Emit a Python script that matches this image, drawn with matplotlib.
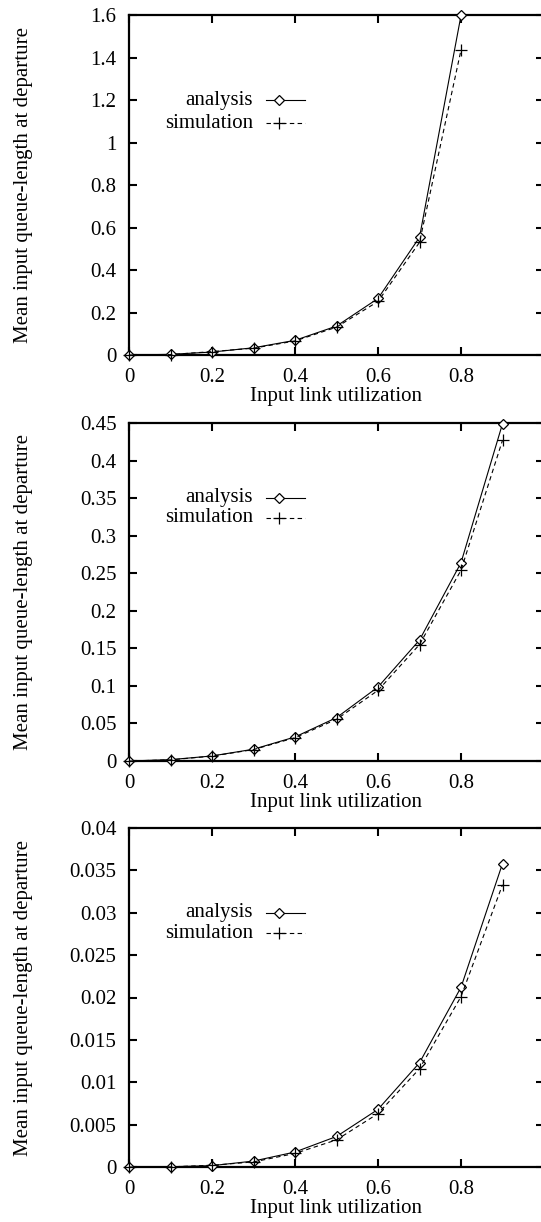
import matplotlib
matplotlib.use("Agg")
import matplotlib.pyplot as plt
from matplotlib.ticker import FixedLocator, FuncFormatter
from matplotlib.lines import Line2D

plt.rcParams['font.family'] = ['Liberation Serif', 'DejaVu Serif']

# ---- data ----
x_top = [0.0, 0.1, 0.2, 0.3, 0.4, 0.5, 0.6, 0.7, 0.8]
ana_top = [0.0, 0.003, 0.014, 0.034, 0.069, 0.136, 0.266, 0.554, 1.598]
sim_top = [0.0, 0.002, 0.016, 0.032, 0.066, 0.131, 0.252, 0.530, 1.435]

x_mid = [0.0, 0.1, 0.2, 0.3, 0.4, 0.5, 0.6, 0.7, 0.8, 0.9]
ana_mid = [0.0, 0.0018, 0.0067, 0.0157, 0.032, 0.0577, 0.0985, 0.161, 0.264, 0.449]
sim_mid = [0.0, 0.0015, 0.0065, 0.0152, 0.031, 0.0555, 0.094, 0.155, 0.254, 0.427]

x_bot = [0.0, 0.1, 0.2, 0.3, 0.4, 0.5, 0.6, 0.7, 0.8, 0.9]
ana_bot = [0.0, 0.00003, 0.00016, 0.0007, 0.00177, 0.0036, 0.0068, 0.0123, 0.0212, 0.0358]
sim_bot = [0.0, 0.00002, 0.0002, 0.0006, 0.0016, 0.0032, 0.0063, 0.0116, 0.0201, 0.0333]

x_ticks = [0, 0.2, 0.4, 0.6, 0.8]
y_ticks_top = [0, 0.2, 0.4, 0.6, 0.8, 1.0, 1.2, 1.4, 1.6]
y_ticks_mid = [0, 0.05, 0.1, 0.15, 0.2, 0.25, 0.3, 0.35, 0.4, 0.45]
y_ticks_bot = [0, 0.005, 0.01, 0.015, 0.02, 0.025, 0.03, 0.035, 0.04]

labels = ["analysis", "simulation"]
xlabel = "Input link utilization"
ylabel = "Mean input queue-length at departure"

W, H = 541, 1222
fig = plt.figure(figsize=(W / 100, H / 100), dpi=100)

left = 129 / W
width = 415 / W
panels = [
    (x_top, ana_top, sim_top, y_ticks_top, 15, 355, (100, 123)),
    (x_mid, ana_mid, sim_mid, y_ticks_mid, 423, 761, (498, 518)),
    (x_bot, ana_bot, sim_bot, y_ticks_bot, 828, 1167, (913, 933)),
]

fs = 15
fmt = FuncFormatter(lambda v, p: ("%g" % round(v, 6)))

for xs, ana, sim, yt, top_px, bot_px, leg_px in panels:
    ax = fig.add_axes([left, 1 - bot_px / H, width, (bot_px - top_px) / H])
    ax.plot(xs, ana, color='black', lw=0.8, marker='D', ms=5.5,
            mfc='white', mec='black', mew=0.9, clip_on=False, zorder=3)
    ax.plot(xs, sim, color='black', lw=0.8, ls=(0, (4, 3)), marker='+', ms=8,
            mew=0.9, clip_on=False, zorder=3)
    ax.set_xlim(0, 1.0)
    ax.set_ylim(yt[0], yt[-1])
    ax.xaxis.set_major_locator(FixedLocator(x_ticks))
    ax.yaxis.set_major_locator(FixedLocator(yt))
    ax.xaxis.set_major_formatter(fmt)
    ax.yaxis.set_major_formatter(fmt)
    ax.tick_params(direction='in', length=6, width=1.5, top=True, right=True,
                   labelsize=fs)
    ax.tick_params(axis='y', pad=9)
    ax.tick_params(axis='x', pad=9)
    for s in ax.spines.values():
        s.set_linewidth(1.6)
    ax.set_xlabel(xlabel, fontsize=fs, labelpad=0)
    ax.set_ylabel(ylabel, fontsize=fs)
    ax.yaxis.set_label_coords(-0.231, 0.5)

    # key (legend) in gnuplot style: right-aligned text, sample to the right
    h = bot_px - top_px
    for i, (lab, style) in enumerate(zip(labels, ['ana', 'sim'])):
        yy = 1 - (leg_px[i] - top_px) / h
        ax.text(0.299, yy, lab, transform=ax.transAxes, ha='right', va='center',
                fontsize=fs)
        if style == 'ana':
            ln = Line2D([0.330, 0.424], [yy, yy], transform=ax.transAxes,
                        color='black', lw=0.8)
            mk = Line2D([0.362], [yy], transform=ax.transAxes, marker='D', ms=5.5,
                        mfc='white', mec='black', mew=0.9, ls='none')
        else:
            ln = Line2D([0.330, 0.424], [yy, yy], transform=ax.transAxes,
                        color='black', lw=0.8, ls=(0, (4, 3)))
            mk = Line2D([0.362], [yy], transform=ax.transAxes, marker='+', ms=8,
                        mew=0.9, ls='none', color='black')
        ax.add_line(ln)
        ax.add_line(mk)

fig.savefig("out.png", dpi=100)
